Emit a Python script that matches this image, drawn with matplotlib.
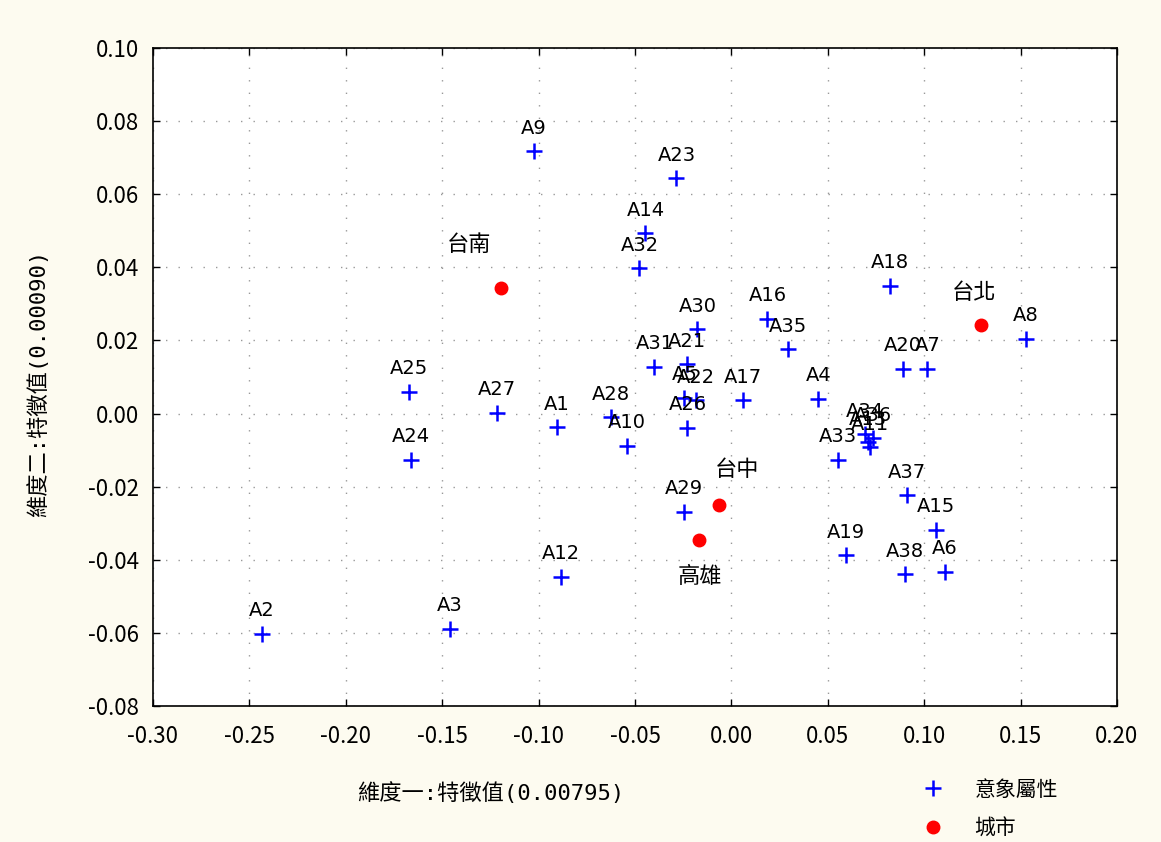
import matplotlib
matplotlib.use("Agg")
import matplotlib.pyplot as plt
from matplotlib.lines import Line2D

plt.rcParams['font.family'] = ['Noto Sans CJK TC', 'DejaVu Sans']

# Attribute points (dimension 1, dimension 2)
attr_labels = ["A9", "A23", "A14", "A32", "A30", "A16", "A35", "A18", "A8", "A20", "A7",
               "A25", "A27", "A1", "A28", "A10", "A31", "A21", "A5", "A22", "A26", "A17",
               "A4", "A24", "A12", "A29", "A2", "A3", "A33", "A34", "A36", "A13", "A11",
               "A37", "A15", "A38", "A6", "A19"]
attr_x = [-0.1026, -0.0285, -0.0446, -0.0477, -0.0176, 0.0187, 0.0295, 0.0824, 0.1528, 0.0891, 0.1016,
          -0.1674, -0.1218, -0.0907, -0.0627, -0.0544, -0.0399, -0.0232, -0.0244, -0.0182, -0.0228, 0.0062,
          0.0451, -0.1663, -0.0886, -0.0244, -0.2435, -0.1461, 0.0551, 0.0694, 0.0736, 0.0710, 0.0720,
          0.0912, 0.1061, 0.0902, 0.1109, 0.0596]
attr_y = [0.0718, 0.0644, 0.0493, 0.0398, 0.0231, 0.0259, 0.0176, 0.0349, 0.0204, 0.0122, 0.0122,
          0.0059, 0.0002, -0.0037, -0.0010, -0.0088, 0.0128, 0.0135, 0.0043, 0.0037, -0.0039, 0.0037,
          0.0040, -0.0127, -0.0447, -0.0268, -0.0603, -0.0589, -0.0127, -0.0056, -0.0067, -0.0078, -0.0092,
          -0.0223, -0.0318, -0.0440, -0.0433, -0.0387]

# Cities
city_labels = ["台南", "台北", "台中", "高雄"]
city_x = [-0.1193, 0.1294, -0.0062, -0.0166]
city_y = [0.0344, 0.0242, -0.0250, -0.0346]
city_offsets = [(-32, 43), (-7, 33), (18, 35), (0, -36)]  # label offsets in pixels

xticks = [-0.30, -0.25, -0.20, -0.15, -0.10, -0.05, 0.00, 0.05, 0.10, 0.15, 0.20]
yticks = [-0.08, -0.06, -0.04, -0.02, 0.00, 0.02, 0.04, 0.06, 0.08, 0.10]

fig = plt.figure(figsize=(11.61, 8.42), dpi=100, facecolor='#fdfbf0')
ax = fig.add_axes([153/1161, 1-706/842, (1117-153)/1161, (706-48)/842])
ax.set_facecolor('white')

ax.plot(attr_x, attr_y, linestyle='none', marker='+', color='#0000ff',
        markersize=11, markeredgewidth=1.8, zorder=3)
ax.plot(city_x, city_y, linestyle='none', marker='o', color='#ff0000',
        markersize=9, zorder=3)

for lab, x, y in zip(attr_labels, attr_x, attr_y):
    ax.annotate(lab, (x, y), xytext=(0, 23), textcoords='offset pixels',
                ha='center', va='center', fontsize=14, color='black',
                family=['DejaVu Sans'], zorder=4)

for lab, x, y, off in zip(city_labels, city_x, city_y, city_offsets):
    ax.annotate(lab, (x, y), xytext=off, textcoords='offset pixels',
                ha='center', va='center', fontsize=16, color='black', zorder=4)

ax.set_xlim(-0.30, 0.20)
ax.set_ylim(-0.08, 0.10)
ax.set_xticks(xticks)
ax.set_yticks(yticks)
ax.set_xticklabels([f"{t:.2f}" for t in xticks], fontsize=16)
ax.set_yticklabels([f"{t:.2f}" for t in yticks], fontsize=16)
ax.tick_params(axis='x', direction='in', top=True, length=5, width=1, pad=14)
ax.tick_params(axis='y', direction='in', right=True, length=5, width=1, pad=10)
ax.grid(True, color='#999999', linestyle=(0, (1, 8)), linewidth=1)
for s in ax.spines.values():
    s.set_linewidth(1.2)
    s.set_color('black')

mono = ['DejaVu Sans Mono', 'Noto Sans CJK TC']
fig.text(357/1161, 1-793/842, "維度一:特徵值(0.00795)", ha='left', va='center',
         fontsize=16, family=mono)
fig.text(38/1161, 1-383/842, "維度二:特徵值(0.00090)", ha='center', va='center',
         rotation=90, fontsize=16, family=mono)

handles = [Line2D([], [], linestyle='none', marker='+', color='#0000ff', markersize=11, markeredgewidth=1.8),
           Line2D([], [], linestyle='none', marker='o', color='#ff0000', markersize=9)]
fig.legend(handles, ["意象屬性", "城市"], loc='center left', bbox_to_anchor=(893/1161, 1-809/842),
           frameon=False, fontsize=15, handletextpad=1.0, labelspacing=0.8)

fig.savefig("out.png", dpi=100, facecolor=fig.get_facecolor())
